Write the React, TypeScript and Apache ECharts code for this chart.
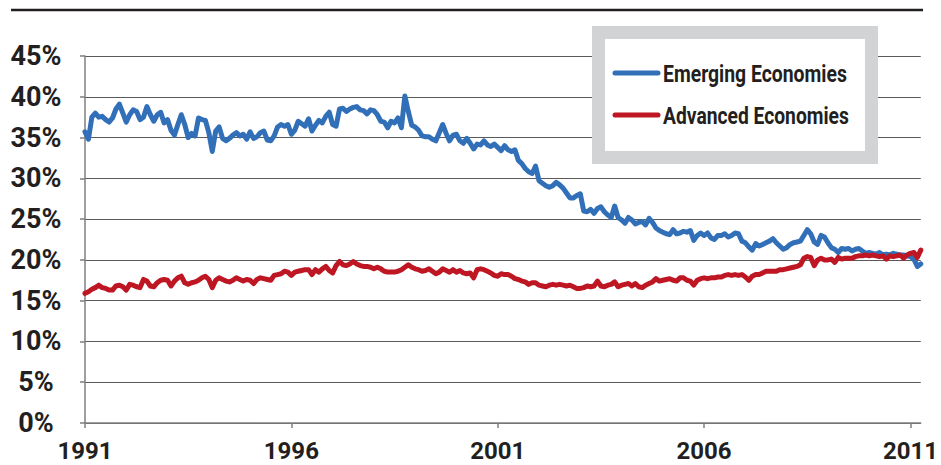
import React, { useEffect, useRef } from "react";
import * as echarts from "echarts";

const START_YEAR = 1991;

// Monthly share (%), Jan 1991 – Apr 2011
const emergingEconomies: number[] = [
  35.7, 34.8, 37.5, 38.0, 37.5, 37.6, 37.2, 36.9, 37.4, 38.5, 39.1, 38.0,
  36.9, 37.8, 38.4, 38.2, 37.2, 37.5, 38.8, 37.8, 37.0, 37.8, 38.1, 36.8,
  37.2, 35.9, 35.3, 36.6, 37.8, 36.6, 35.0, 35.5, 35.2, 37.4, 37.2, 37.1,
  35.6, 33.3, 35.8, 36.3, 34.9, 34.6, 34.9, 35.3, 35.6, 35.2, 35.4, 34.8,
  35.7, 34.9, 35.1, 35.6, 35.8, 34.7, 34.6, 35.2, 36.3, 36.6, 36.4, 36.6,
  35.4, 35.9, 37.0, 36.7, 36.4, 37.3, 35.8, 36.5, 37.1, 36.8, 37.6, 38.1,
  36.6, 36.4, 38.5, 38.6, 38.2, 38.5, 38.7, 38.8, 38.4, 38.3, 37.9, 38.4,
  38.3, 37.8, 37.0, 36.9, 36.2, 37.0, 36.8, 37.4, 36.2, 40.1, 38.2, 36.5,
  36.3, 35.9, 35.2, 35.1, 35.1, 34.8, 34.6, 35.6, 36.6, 35.5, 34.6, 35.3,
  35.4, 34.6, 34.3, 34.9, 34.3, 33.6, 34.2, 34.1, 34.6, 34.1, 33.9, 34.2,
  33.8, 33.4, 34.0, 33.5, 33.3, 33.5, 32.2, 31.8, 31.2, 30.8, 30.6, 31.5,
  29.7, 29.4, 29.1, 28.9, 29.1, 29.5, 29.2, 28.8, 28.2, 27.6, 27.6, 27.9,
  28.1, 26.0, 25.9, 26.2, 25.7, 26.3, 26.5, 25.9, 25.5, 25.2, 26.6, 25.2,
  24.9, 24.5, 25.2, 24.9, 24.4, 24.6, 24.7, 24.3, 25.1, 24.6, 23.9, 23.6,
  23.4, 23.2, 23.1, 23.7, 23.2, 23.3, 23.5, 23.4, 23.6, 22.4, 23.0, 23.3,
  23.0, 23.3, 22.7, 22.5, 23.0, 23.0, 23.2, 22.8, 23.0, 23.3, 23.2, 22.3,
  22.1, 21.6, 21.2, 22.0, 21.7, 21.9, 22.1, 22.3, 22.6, 22.1, 21.7, 21.3,
  21.5, 21.9, 22.1, 22.2, 22.3, 23.0, 23.7, 23.2, 22.2, 21.9, 23.0, 22.8,
  22.1, 21.5, 21.3, 20.9, 21.4, 21.3, 21.4, 21.1, 21.3, 21.4, 21.1, 20.8,
  20.9, 20.8, 20.7, 20.9, 20.6, 20.7, 20.6, 20.8, 20.7, 20.6, 20.6, 20.5,
  20.4, 20.1, 19.2, 19.5,
];

const advancedEconomies: number[] = [
  15.9, 16.1, 16.4, 16.6, 16.9, 16.6, 16.5, 16.3, 16.3, 16.8, 16.9, 16.7,
  16.3, 17.0, 16.9, 16.7, 16.6, 17.6, 17.4, 16.8, 16.7, 17.2, 17.5, 17.6,
  17.5, 16.8, 17.4, 17.8, 18.0, 17.2, 17.0, 17.2, 17.3, 17.5, 17.8, 18.0,
  17.6, 16.6, 17.5, 17.8, 17.6, 17.4, 17.3, 17.5, 17.8, 17.6, 17.4, 17.6,
  17.5, 17.1, 17.6, 17.8, 17.7, 17.6, 17.5, 18.1, 18.2, 18.3, 18.6, 18.5,
  18.1, 18.5, 18.6, 18.7, 18.8, 18.8, 18.2, 18.8, 18.5, 18.9, 19.2, 18.7,
  18.4, 19.3, 19.8, 19.4, 19.3, 19.5, 19.8, 19.5, 19.3, 19.2, 19.2, 19.1,
  18.9, 19.1, 18.9, 18.6, 18.5, 18.5, 18.5, 18.6, 18.8, 19.1, 19.4, 19.1,
  18.9, 18.8, 18.6, 18.7, 18.9, 18.6, 18.3, 18.5, 18.9, 18.7, 18.5, 18.8,
  18.5, 18.7, 18.4, 18.3, 18.4, 17.8, 18.8, 18.9, 18.8, 18.6, 18.4, 18.1,
  18.0, 18.3, 18.2, 18.2, 18.0, 17.7, 17.6, 17.4, 17.3, 17.0, 17.2, 17.2,
  16.9, 16.8, 16.7, 16.9, 17.0, 16.9, 17.0, 16.9, 16.8, 16.9, 16.7, 16.5,
  16.5, 16.6, 16.8, 16.7, 16.8, 17.4, 16.8, 16.7, 16.9, 17.0, 17.3, 16.7,
  16.9, 17.0, 17.1, 16.8, 17.1, 16.7, 16.6, 16.9, 17.1, 17.3, 17.7, 17.4,
  17.5, 17.6, 17.7, 17.5, 17.4, 17.8, 17.8, 17.5, 17.4, 16.9, 17.5, 17.7,
  17.8, 17.7, 17.8, 17.8, 17.9, 17.9, 18.1, 18.2, 18.1, 18.2, 18.1, 18.2,
  17.9, 17.5, 18.0, 18.2, 18.2, 18.4, 18.6, 18.6, 18.6, 18.6, 18.8, 18.8,
  18.9, 19.0, 19.1, 19.2, 19.4, 20.2, 20.4, 20.3, 19.3, 20.0, 20.2, 20.0,
  20.0, 20.1, 19.7, 20.3, 20.1, 20.2, 20.2, 20.2, 20.4, 20.5, 20.5, 20.6,
  20.5, 20.6, 20.5, 20.4, 20.5, 20.1, 20.5, 20.4, 20.5, 20.6, 20.2, 20.6,
  20.8, 20.9, 20.3, 21.2,
];

const months: string[] = emergingEconomies.map(
  (_, i) => `${START_YEAR + Math.floor(i / 12)}-${String((i % 12) + 1).padStart(2, "0")}`
);

const yearTickLabels = ["1991", "1996", "2001", "2006", "2011"];
const seriesNames = ["Emerging Economies", "Advanced Economies"];

const FONT = 'Roboto, "Noto Sans", sans-serif';
const BLUE = "#3170b8";
const RED = "#be1622";
const TEXT = "#231f20";

// condensed look for legend texts: horizontal scale to match target width
function condenseScale(text: string, font: string, targetWidth: number): number {
  const c = document.createElement("canvas").getContext("2d");
  if (!c) return 0.78;
  c.font = font;
  const w = c.measureText(text).width;
  return w > 0 ? targetWidth / w : 0.78;
}

export default function App() {
  const ref = useRef<HTMLDivElement>(null);

  useEffect(() => {
    if (!ref.current) return;
    const chart = echarts.init(ref.current, null, { renderer: "svg" });
    const isYearMonth = (m?: string) =>
      m !== undefined && m.endsWith("-01") && yearTickLabels.includes(m.slice(0, 4));

    const legendFont = "bold 24px Roboto";
    const legendTargets = [184, 186];
    const legendColors = [BLUE, RED];
    const legendRows = [73, 115];

    const legendGraphics: any[] = [];
    seriesNames.forEach((name, k) => {
      legendGraphics.push({
        type: "line",
        z: 10,
        shape: { x1: 615, y1: legendRows[k], x2: 658, y2: legendRows[k] },
        style: { stroke: legendColors[k], lineWidth: 5, lineCap: "round" },
      });
      legendGraphics.push({
        type: "text",
        z: 10,
        x: 663,
        y: legendRows[k] + 1,
        scaleX: condenseScale(name, legendFont, legendTargets[k]),
        style: {
          text: name,
          font: legendFont,
          fill: TEXT,
          textAlign: "left",
          textVerticalAlign: "middle",
          verticalAlign: "middle",
        },
      });
    });

    chart.setOption({
      animation: false,
      backgroundColor: "#ffffff",
      grid: { left: 85, right: 19, top: 56, bottom: 42, containLabel: false },
      xAxis: {
        type: "category",
        data: months,
        boundaryGap: false,
        axisLine: { lineStyle: { color: "#7f7f7f", width: 1.5 } },
        axisTick: {
          show: true,
          length: 5,
          interval: (i: number) => isYearMonth(months[i]),
          lineStyle: { color: "#7f7f7f", width: 1.5 },
        },
        axisLabel: {
          interval: (i: number) => isYearMonth(months[i]),
          formatter: (v: string) => (isYearMonth(v) ? v.slice(0, 4) : ""),
          margin: 17,
          fontFamily: FONT,
          fontWeight: "bold",
          fontSize: 24,
          lineHeight: 22,
          color: TEXT,
        },
        splitLine: { show: false },
      },
      yAxis: {
        type: "value",
        min: 0,
        max: 45,
        interval: 5,
        axisLine: { show: true, lineStyle: { color: "#7f7f7f", width: 1.5 } },
        axisTick: { show: true, length: 5, lineStyle: { color: "#7f7f7f", width: 1.5 } },
        axisLabel: {
          formatter: "{value}%",
          align: "center",
          margin: 49,
          fontFamily: FONT,
          fontWeight: "bold",
          fontSize: 27,
          color: TEXT,
        },
        splitLine: { show: true, lineStyle: { color: "#5a5a5a", width: 1 } },
      },
      legend: { show: false, data: seriesNames },
      graphic: [
        {
          type: "line",
          z: 5,
          shape: { x1: 11, y1: 10, x2: 923, y2: 10 },
          style: { stroke: TEXT, lineWidth: 2.5 },
        },
        {
          type: "rect",
          z: 5,
          shape: { x: 598.5, y: 32.5, width: 273, height: 125 },
          style: { fill: "#ffffff", stroke: "#d1d3d4", lineWidth: 13 },
        },
        ...legendGraphics,
      ],
      series: [
        {
          name: seriesNames[0],
          type: "line",
          data: emergingEconomies,
          showSymbol: false,
          symbol: "none",
          color: BLUE,
          lineStyle: { color: BLUE, width: 5, cap: "round", join: "round" },
          z: 2,
        },
        {
          name: seriesNames[1],
          type: "line",
          data: advancedEconomies,
          showSymbol: false,
          symbol: "none",
          color: RED,
          lineStyle: { color: RED, width: 5, cap: "round", join: "round" },
          z: 3,
        },
      ],
    });
    return () => chart.dispose();
  }, []);

  return (
    <div
      ref={ref}
      style={{ position: "fixed", left: 0, top: 0, width: 941, height: 465, background: "#fff" }}
    />
  );
}
